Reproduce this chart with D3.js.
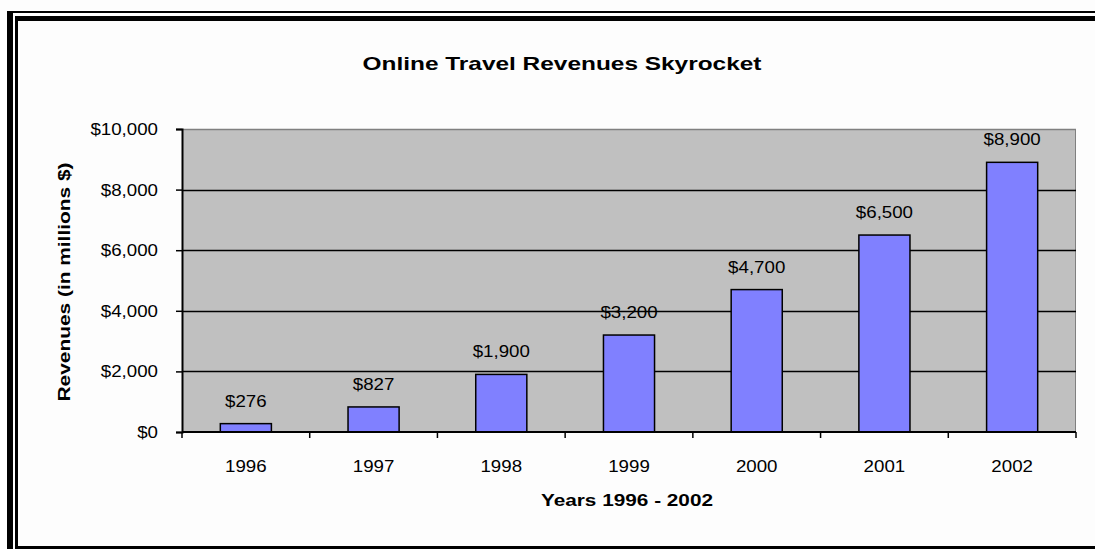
<!DOCTYPE html>
<html><head><meta charset="utf-8">
<script src="https://cdn.jsdelivr.net/npm/d3@7"></script>
<style>body{margin:0;background:#fdfdfd;}svg{display:block;}</style>
</head><body>
<svg id="c" width="1095" height="549"></svg>
<script>
const years = ["1996","1997","1998","1999","2000","2001","2002"];
const revenues = [276, 827, 1900, 3200, 4700, 6500, 8900];
const yTicks = [0, 2000, 4000, 6000, 8000, 10000];
const title = "Online Travel Revenues Skyrocket";
const xTitle = "Years 1996 - 2002";
const yTitle = "Revenues (in millions $)";

const svg = d3.select("#c");
const W = 1095, H = 549;
svg.append("rect").attr("width", W).attr("height", H).attr("fill", "#fdfdfd");

// frame
svg.append("rect").attr("x", 7).attr("y", 11).attr("width", 6).attr("height", H - 11).attr("fill", "#000");
svg.append("rect").attr("x", 7).attr("y", 11).attr("width", W - 7).attr("height", 2).attr("fill", "#000");
svg.append("rect").attr("x", 15).attr("y", 16).attr("width", 3).attr("height", H - 16).attr("fill", "#000");
svg.append("rect").attr("x", 15).attr("y", 16).attr("width", W - 15).attr("height", 5).attr("fill", "#000");
svg.append("rect").attr("x", 15).attr("y", 546).attr("width", W - 15).attr("height", 3).attr("fill", "#000");

const L = 182, R = 1076, T = 129, B = 432;
const x = d3.scaleBand().domain(years).range([L, R]).paddingInner(0.6).paddingOuter(0.3);
const y = d3.scaleLinear().domain([0, 10000]).range([B, T]);
const font = "'Liberation Sans', Arial, sans-serif";
const stretch = 1.1;
function widen(sel) {
  sel.each(function() {
    const w = this.getComputedTextLength();
    d3.select(this).attr("textLength", w * stretch).attr("lengthAdjust", "spacingAndGlyphs");
  });
}

// plot area
svg.append("rect").attr("x", L).attr("y", T).attr("width", R - L).attr("height", B - T).attr("fill", "#c0c0c0");
svg.append("line").attr("x1", L).attr("x2", R).attr("y1", T + 0.5).attr("y2", T + 0.5).attr("stroke", "#808080").attr("stroke-width", 1.5);
svg.append("line").attr("x1", R - 0.5).attr("x2", R - 0.5).attr("y1", T).attr("y2", B).attr("stroke", "#808080").attr("stroke-width", 1);

// gridlines
svg.append("g").selectAll("line").data(yTicks.filter(d => d > 0 && d < 10000)).join("line")
  .attr("x1", L).attr("x2", R).attr("y1", d => Math.round(y(d)) + 0.5).attr("y2", d => Math.round(y(d)) + 0.5)
  .attr("stroke", "#000").attr("stroke-width", 1.5);

// bars
svg.append("g").selectAll("rect").data(revenues).join("rect")
  .attr("x", (d, i) => x(years[i])).attr("width", x.bandwidth())
  .attr("y", d => y(d)).attr("height", d => B - y(d))
  .attr("fill", "#8080ff").attr("stroke", "#000").attr("stroke-width", 1.5);

// y axis
const ya = svg.append("g").attr("transform", `translate(${L},0)`)
  .call(d3.axisLeft(y).tickValues(yTicks).tickSize(6).tickPadding(18)
    .tickFormat(d => "$" + d3.format(",")(d)));
ya.select(".domain").attr("stroke", "#000").attr("stroke-width", 2);
ya.selectAll(".tick line").attr("stroke", "#000").attr("stroke-width", 1.5);
ya.selectAll(".tick text").attr("font-family", font).attr("font-size", 17).attr("fill", "#000").call(widen);

// x axis
const xTickScale = d3.scaleLinear().domain([0, years.length]).range([L, R]);
const xa = svg.append("g").attr("transform", `translate(0,${B})`);
xa.append("line").attr("x1", L).attr("x2", R).attr("stroke", "#000").attr("stroke-width", 2);
xa.selectAll("line.t").data(d3.range(years.length + 1)).join("line").attr("class", "t")
  .attr("x1", d => xTickScale(d)).attr("x2", d => xTickScale(d)).attr("y1", 0).attr("y2", 6)
  .attr("stroke", "#000").attr("stroke-width", 1.5);
xa.selectAll("text").data(years).join("text")
  .attr("x", d => x(d) + x.bandwidth() / 2).attr("y", 40)
  .attr("text-anchor", "middle").attr("font-family", font).attr("font-size", 17).attr("fill", "#000")
  .text(d => d).call(widen);

// data labels
svg.append("g").selectAll("text").data(revenues).join("text")
  .attr("x", (d, i) => x(years[i]) + x.bandwidth() / 2).attr("y", d => y(d) - 17)
  .attr("text-anchor", "middle").attr("font-family", font).attr("font-size", 17).attr("fill", "#000")
  .text(d => "$" + d3.format(",")(d)).call(widen);

// titles
svg.append("text").attr("x", 562).attr("y", 70).attr("text-anchor", "middle")
  .attr("font-family", font).attr("font-weight", "bold").attr("font-size", 19).attr("fill", "#000")
  .attr("textLength", 399).attr("lengthAdjust", "spacingAndGlyphs").text(title);
svg.append("text").attr("x", 627).attr("y", 506).attr("text-anchor", "middle")
  .attr("font-family", font).attr("font-weight", "bold").attr("font-size", 17).attr("fill", "#000")
  .attr("textLength", 172).attr("lengthAdjust", "spacingAndGlyphs").text(xTitle);
svg.append("text").attr("transform", "translate(70,282) rotate(-90)").attr("text-anchor", "middle")
  .attr("font-family", font).attr("font-weight", "bold").attr("font-size", 17).attr("fill", "#000")
  .attr("textLength", 239).attr("lengthAdjust", "spacingAndGlyphs").text(yTitle);
</script>
</body></html>
